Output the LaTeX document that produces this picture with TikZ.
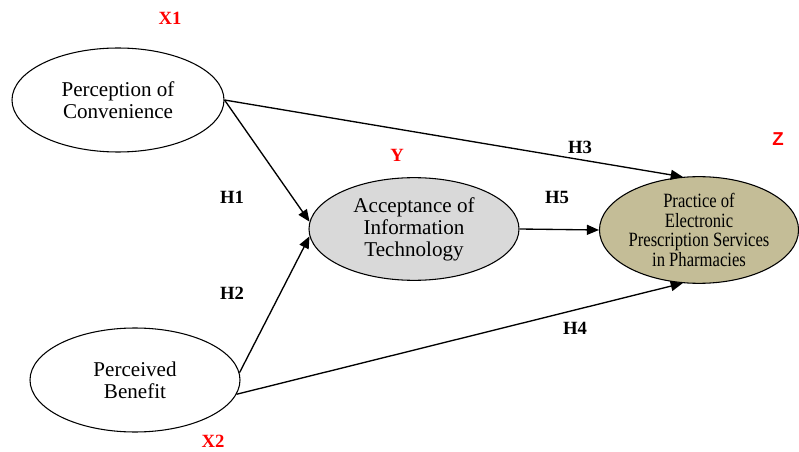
\documentclass[tikz,border=0pt]{standalone}
\usepackage{fontspec}
\setmainfont{Liberation Serif}
\setsansfont{Liberation Sans}
\newfontfamily\condfont[FakeStretch=0.82]{Liberation Serif}
\usetikzlibrary{arrows.meta,shapes.geometric}
\definecolor{acceptgray}{RGB}{217,217,217}
\definecolor{practan}{RGB}{196,189,151}
\definecolor{tagred}{RGB}{255,0,0}
\tikzset{
  construct/.style={draw,ellipse,line width=0.8pt,inner sep=0pt,align=center,font=\fontsize{15.8}{16.5}\selectfont},
  tag/.style={text=tagred,font=\fontsize{14}{14}\selectfont\bfseries},
  hyp/.style={font=\fontsize{14}{14}\selectfont\bfseries},
  link/.style={line width=1pt,-{Triangle[length=9pt,width=7.5pt]}}
}

\begin{document}
\begin{tikzpicture}[x=0.75pt,y=-0.75pt]
  \useasboundingbox (0,0) rectangle (799,452);
  % constructs
  \node[construct,minimum width=159pt,minimum height=78pt] (conv) at (118,100) {Perception of\\Convenience};
  \node[construct,minimum width=157.5pt,minimum height=78pt] (ben) at (135,380) {Perceived\\Benefit};
  \node[construct,fill=acceptgray,minimum width=157.5pt,minimum height=77pt] (acc) at (414,229) {Acceptance of\\Information\\Technology};
  \node[construct,fill=practan,minimum width=147pt,minimum height=80pt,font=\condfont\fontsize{15.2}{14.6}\selectfont] (prac) at (699,230) {Practice of\\Electronic\\Prescription Services\\in Pharmacies};
  % variable tags
  \node[tag] (x1) at (170,18) {X1};
  \node[tag] (x2) at (213,441) {X2};
  \node[tag] (y) at (397,155) {Y};
  \node[tag,font=\fontsize{14}{14}\selectfont\sffamily\bfseries] (z) at (778,139) {Z};
  % hypotheses
  \node[hyp] (h1) at (232,197) {H1};
  \node[hyp] (h2) at (232,293) {H2};
  \node[hyp] (h3) at (580,147) {H3};
  \node[hyp] (h4) at (575,328) {H4};
  \node[hyp] (h5) at (557,197) {H5};
  % paths
  \draw[link] (conv.east) -- (acc.176);
  \draw[link] (ben.4) -- (acc.184);
  \draw[link] (conv.east) -- (prac.107);
  \draw[link] (ben.352) -- (prac.253);
  \draw[link] (acc.east) -- (prac.west);
\end{tikzpicture}
\end{document}
